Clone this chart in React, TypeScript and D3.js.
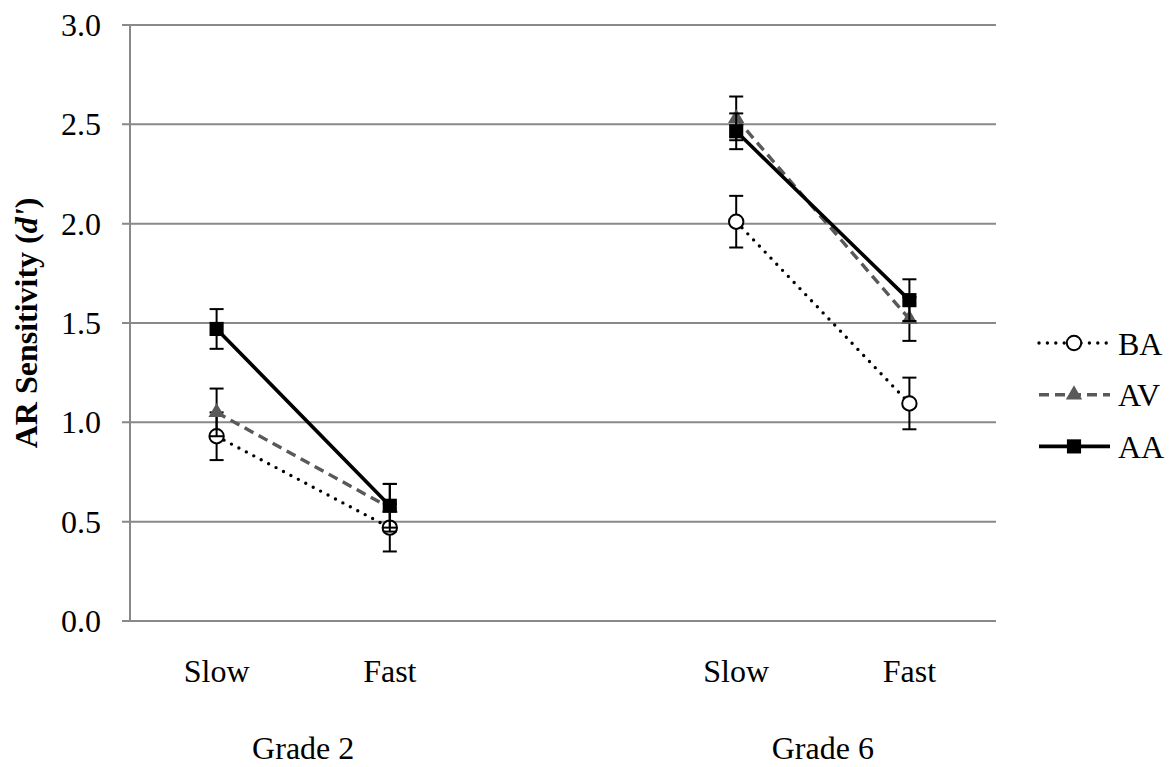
import * as d3 from "d3";

const categories = ["Slow", "Fast", "", "Slow", "Fast"];
const groups = [
  { label: "Grade 2", from: 0, to: 1 },
  { label: "Grade 6", from: 3, to: 4 },
];
const yTicks = [0, 0.5, 1, 1.5, 2, 2.5, 3];

const baValues = [0.93, 0.47, null, 2.01, 1.095];
const baErrors = [0.12, 0.12, null, 0.13, 0.13];
const avValues = [1.05, 0.57, null, 2.53, 1.52];
const avErrors = [0.12, 0.12, null, 0.11, 0.11];
const aaValues = [1.47, 0.58, null, 2.465, 1.615];
const aaErrors = [0.1, 0.11, null, 0.09, 0.105];

const series = [
  { name: "BA", values: baValues, errors: baErrors, marker: "circle", color: "#000", dash: "0,8.4", width: 3.4, cap: "round" },
  { name: "AV", values: avValues, errors: avErrors, marker: "triangle", color: "#595959", dash: "10,6", width: 3.4, cap: "butt" },
  { name: "AA", values: aaValues, errors: aaErrors, marker: "square", color: "#000", dash: null, width: 3.6, cap: "butt" },
];

const W = 1169;
const H = 767;
const left = 130;
const right = 996;
const top = 25;
const bottom = 621;
const font = "'Liberation Serif', 'Times New Roman', serif";
const fs = 32;
const grid = "#898989";

function Marker({ kind, x, y, color }) {
  if (kind === "circle") {
    return <circle cx={x} cy={y} r={7.2} fill="#fff" stroke="#000" strokeWidth={2} />;
  }
  const type = kind === "square" ? d3.symbolSquare : d3.symbolTriangle;
  const size = kind === "square" ? 200 : 115;
  return <path d={d3.symbol(type, size)()} transform={`translate(${x},${y})`} fill={color} />;
}

export default function App() {
  const x = d3.scaleBand().domain(categories.map((_, i) => String(i))).range([left, right]).padding(0);
  const cx = (i) => x(String(i)) + x.bandwidth() / 2;
  const y = d3.scaleLinear().domain([0, 3]).range([bottom, top]);

  const line = d3
    .line()
    .defined((d) => d != null)
    .x((_, i) => cx(i))
    .y((d) => y(d));

  const legendY = (i) => 343 + i * 51.7;

  return (
    <svg width={W} height={H} style={{ position: "absolute", left: 0, top: 0 }} fontFamily={font}>
      <rect width={W} height={H} fill="#fff" />
      {yTicks.map((t) => (
        <g key={t}>
          <line x1={left - 8} x2={right} y1={y(t)} y2={y(t)} stroke={grid} strokeWidth={2} />
          <text x={101} y={y(t)} dy="0.34em" textAnchor="end" fontSize={fs}>
            {t.toFixed(1)}
          </text>
        </g>
      ))}
      <line x1={left} x2={left} y1={top} y2={bottom} stroke={grid} strokeWidth={2} />

      {categories.map((c, i) => (
        <text key={i} x={cx(i)} y={682} textAnchor="middle" fontSize={fs}>
          {c}
        </text>
      ))}
      {groups.map((g) => (
        <text key={g.label} x={(cx(g.from) + cx(g.to)) / 2} y={759} textAnchor="middle" fontSize={fs}>
          {g.label}
        </text>
      ))}

      <text
        transform={`translate(37,${(top + bottom) / 2}) rotate(-90)`}
        textAnchor="middle"
        fontSize={fs}
        fontWeight="bold"
      >
        AR Sensitivity (<tspan fontStyle="italic">d'</tspan>)
      </text>

      {series.map((s) => (
        <path
          key={s.name}
          d={line(s.values)}
          fill="none"
          stroke={s.color}
          strokeWidth={s.width}
          strokeDasharray={s.dash || undefined}
          strokeLinecap={s.cap}
        />
      ))}

      {series.map((s) => (
        <g key={s.name}>
          {s.values.map((v, i) =>
            v == null ? null : (
              <g key={i} stroke="#000" strokeWidth={2}>
                <line x1={cx(i)} x2={cx(i)} y1={y(v - s.errors[i])} y2={y(v + s.errors[i])} />
                <line x1={cx(i) - 7} x2={cx(i) + 7} y1={y(v - s.errors[i])} y2={y(v - s.errors[i])} />
                <line x1={cx(i) - 7} x2={cx(i) + 7} y1={y(v + s.errors[i])} y2={y(v + s.errors[i])} />
              </g>
            )
          )}
          {s.values.map((v, i) =>
            v == null ? null : <Marker key={i} kind={s.marker} x={cx(i)} y={y(v)} color={s.color} />
          )}
        </g>
      ))}

      {series.map((s, i) => (
        <g key={s.name}>
          <line
            x1={1039}
            x2={1110}
            y1={legendY(i)}
            y2={legendY(i)}
            stroke={s.color}
            strokeWidth={s.width}
            strokeDasharray={s.dash || undefined}
            strokeLinecap={s.cap}
          />
          <Marker kind={s.marker} x={1074} y={legendY(i)} color={s.color} />
          <text x={1118} y={legendY(i)} dy="0.36em" fontSize={fs}>
            {s.name}
          </text>
        </g>
      ))}
    </svg>
  );
}
